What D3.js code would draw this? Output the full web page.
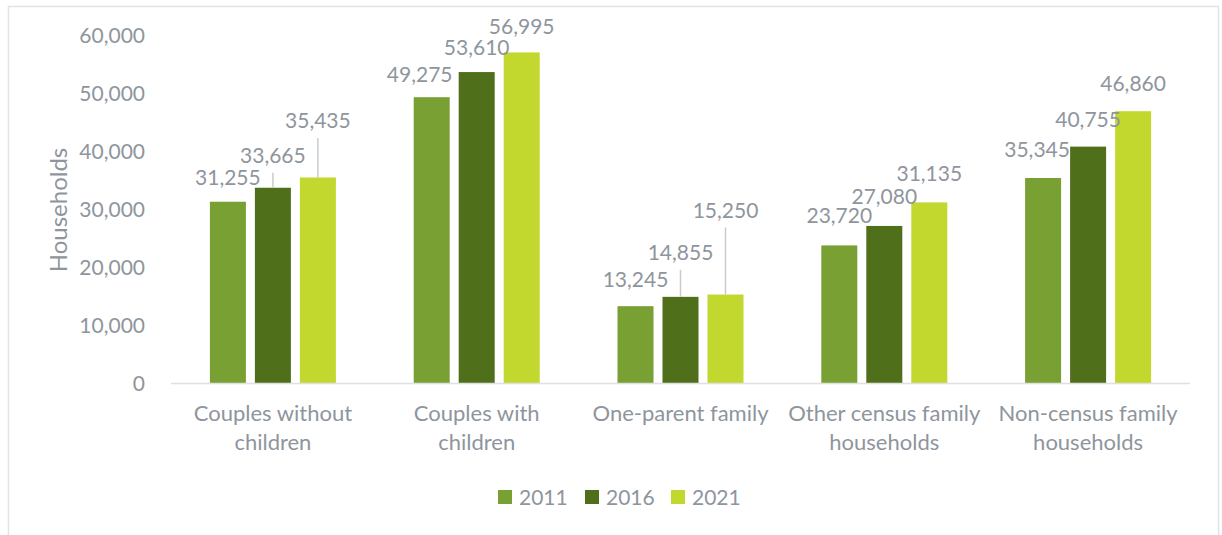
<!DOCTYPE html>
<html>
<head>
<meta charset="utf-8">
<script src="https://cdn.jsdelivr.net/npm/d3@7"></script>
<style>
  body { margin: 0; background: #fff; }
  text { font-family: Lato, "Open Sans", sans-serif; fill: #8e959d; }
</style>
</head>
<body>
<div class="first"></div>
<script>
// data
const categories = [
  ['Couples without', 'children'],
  ['Couples with', 'children'],
  ['One-parent family'],
  ['Other census family', 'households'],
  ['Non-census family', 'households']
];
const years = ['2011', '2016', '2021'];
const values2011 = [31255, 49275, 13245, 23720, 35345];
const values2016 = [33665, 53610, 14855, 27080, 40755];
const values2021 = [35435, 56995, 15250, 31135, 46860];
const yTicks = [0, 10000, 20000, 30000, 40000, 50000, 60000];

// label nudges (dx, dy, leader line?) in px, same order as the series
const labelNudge = {
  '2011': [[0, 2, 0], [-12, 4, 0], [0, 0, 0], [0, -3, 0], [-6, -2, 0]],
  '2016': [[0, -6, 1], [0, 1.5, 0], [0, -18, 1], [0, -3, 0], [0, -1, 0]],
  '2021': [[0, -30.5, 1], [0, 1, 0], [0, -58, 1], [0, -2.5, 0], [0, -1, 0]]
};

function myVis() {
  const width = 1222;
  const height = 535;
  const margin = {top: 35, left: 171, right: 32, bottom: 152};
  const colors = ['#78a033', '#4f6f1b', '#c2d82f'];
  const series = [values2011, values2016, values2021];

  const svg = d3.select('.first').append('svg')
    .attr('width', width).attr('height', height);

  // chart frame
  svg.append('rect')
    .attr('x', 8.5).attr('y', 6.5)
    .attr('width', 1210).attr('height', 560)
    .attr('fill', 'none').attr('stroke', '#e3e3e3').attr('stroke-width', 1.5);

  const x = d3.scaleBand()
    .domain(d3.range(categories.length))
    .range([margin.left, width - margin.right]);
  const xInner = d3.scaleBand()
    .domain(years)
    .range([0, 126])
    .paddingInner(0.2);
  const y = d3.scaleLinear().domain([0, 60000])
    .range([height - margin.bottom, margin.top]);
  const color = d3.scaleOrdinal().domain(years).range(colors);

  const barX = (i, yr) => x(i) + (x.bandwidth() - 126) / 2 + xInner(yr);
  const labelY = d => y(d.v) - 19 + d.nudge[1];

  // y axis labels, no line
  const yAxis = svg.append('g')
    .attr('transform', `translate(${margin.left - 23}, 0)`)
    .call(d3.axisLeft(y).tickValues(yTicks).tickFormat(d3.format(',')).tickSize(0));
  yAxis.select('.domain').remove();
  yAxis.selectAll('text')
    .attr('font-size', 21)
    .attr('font-family', 'Lato, sans-serif')
    .attr('fill', '#8e959d')
    .attr('dy', '0.35em');

  svg.append('text')
    .attr('transform', `translate(67, ${y(30000) + 1}) rotate(-90)`)
    .attr('text-anchor', 'middle')
    .attr('font-size', 24)
    .text('Households');

  // bars
  const flat = [];
  years.forEach((yr, s) => {
    series[s].forEach((v, i) => flat.push({yr, i, v, nudge: labelNudge[yr][i]}));
  });

  svg.selectAll('.rect').data(flat)
    .enter()
    .append('rect')
    .attr('class', 'rect')
    .attr('x', d => barX(d.i, d.yr))
    .attr('y', d => y(d.v))
    .attr('width', xInner.bandwidth())
    .attr('height', d => y(0) - y(d.v))
    .attr('fill', d => color(d.yr));

  // baseline
  svg.append('line')
    .attr('x1', x.range()[0]).attr('x2', x.range()[1])
    .attr('y1', y(0) + 0.5).attr('y2', y(0) + 0.5)
    .attr('stroke', '#e0e0e0').attr('stroke-width', 1.5);

  // leader lines for lifted labels
  svg.selectAll('.leader').data(flat.filter(d => d.nudge[2]))
    .enter()
    .append('line')
    .attr('class', 'leader')
    .attr('x1', d => barX(d.i, d.yr) + xInner.bandwidth() / 2)
    .attr('x2', d => barX(d.i, d.yr) + xInner.bandwidth() / 2)
    .attr('y1', d => labelY(d) + 10)
    .attr('y2', d => y(d.v))
    .attr('stroke', '#c8cbce').attr('stroke-width', 1.5);

  svg.selectAll('.label').data(flat)
    .enter()
    .append('text')
    .attr('class', 'label')
    .attr('x', d => barX(d.i, d.yr) + xInner.bandwidth() / 2 + d.nudge[0])
    .attr('y', labelY)
    .attr('text-anchor', 'middle')
    .attr('font-size', 21)
    .text(d => d3.format(',')(d.v));

  // category labels
  const cats = svg.selectAll('.cat').data(categories)
    .enter()
    .append('text')
    .attr('class', 'cat')
    .attr('text-anchor', 'middle')
    .attr('font-size', 22);
  cats.selectAll('tspan').data((d, i) => d.map(line => ({line, i})))
    .enter()
    .append('tspan')
    .attr('x', d => x(d.i) + x.bandwidth() / 2)
    .attr('y', (d, j) => 421 + j * 29)
    .text(d => d.line);

  // legend
  const legendX = [498, 585, 671];
  const legend = svg.selectAll('.legend').data(years)
    .enter()
    .append('g')
    .attr('class', 'legend')
    .attr('transform', (d, i) => `translate(${legendX[i]}, 490)`);
  legend.append('rect')
    .attr('width', 14).attr('height', 14)
    .attr('fill', d => color(d));
  legend.append('text')
    .attr('x', 21).attr('y', 14.5)
    .attr('font-size', 21)
    .text(d => d);
}

document.addEventListener('DOMContentLoaded', () => myVis());
</script>
</body>
</html>
